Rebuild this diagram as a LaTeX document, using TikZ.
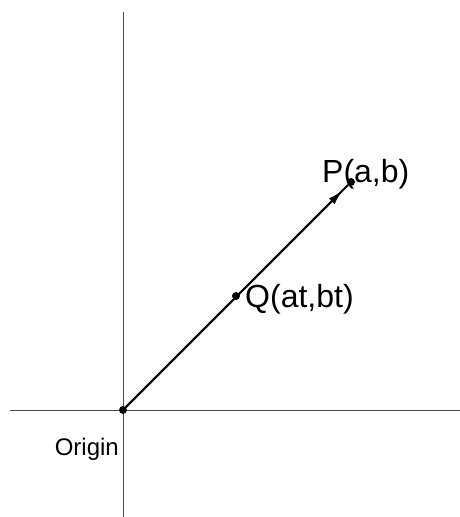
\documentclass[tikz,border=0pt]{standalone}
\usepackage{fontspec}
\setmainfont{Liberation Sans}
\usetikzlibrary{arrows.meta,positioning}

\begin{document}
\begin{tikzpicture}[x=1pt,y=-1pt,
  axis/.style={draw=black!70, line width=0.9pt},
  pt/.style={circle, fill=black, inner sep=0pt, minimum size=8pt},
  seg/.style={line width=2.1pt},
  arr/.style={-{Latex[length=16pt,width=8pt]}, seg, shorten >=7pt},
  lab/.style={font=\fontsize{32}{38}\selectfont, inner sep=0pt},
  small/.style={font=\fontsize{24}{29}\selectfont, inner sep=0pt}]
\useasboundingbox (0,0) rectangle (460,517);
% ---- axes ----
\coordinate (xl) at (10,410);
\coordinate (xr) at (460,410);
\coordinate (yt) at (123,12);
\coordinate (yb) at (123,517);
\draw[axis] (xl) -- (xr);
\draw[axis] (yt) -- (yb);
% ---- points ----
\node[pt] (O) at (123,410) {};
\node[pt] (Q) at (236,296) {};
\node[pt] (P) at (351,182) {};
% ---- vector ----
\draw[seg] (O) -- (P);
\draw[arr] (O) -- (P);
% ---- labels ----
\node[lab, anchor=base west] (Plab) at (322,182) {P(a,b)};
\node[lab, anchor=base west] (Qlab) at (245,307) {Q(at,bt)};
\node[small, anchor=base east] (Olab) at (119,455) {Origin};
\end{tikzpicture}
\end{document}
